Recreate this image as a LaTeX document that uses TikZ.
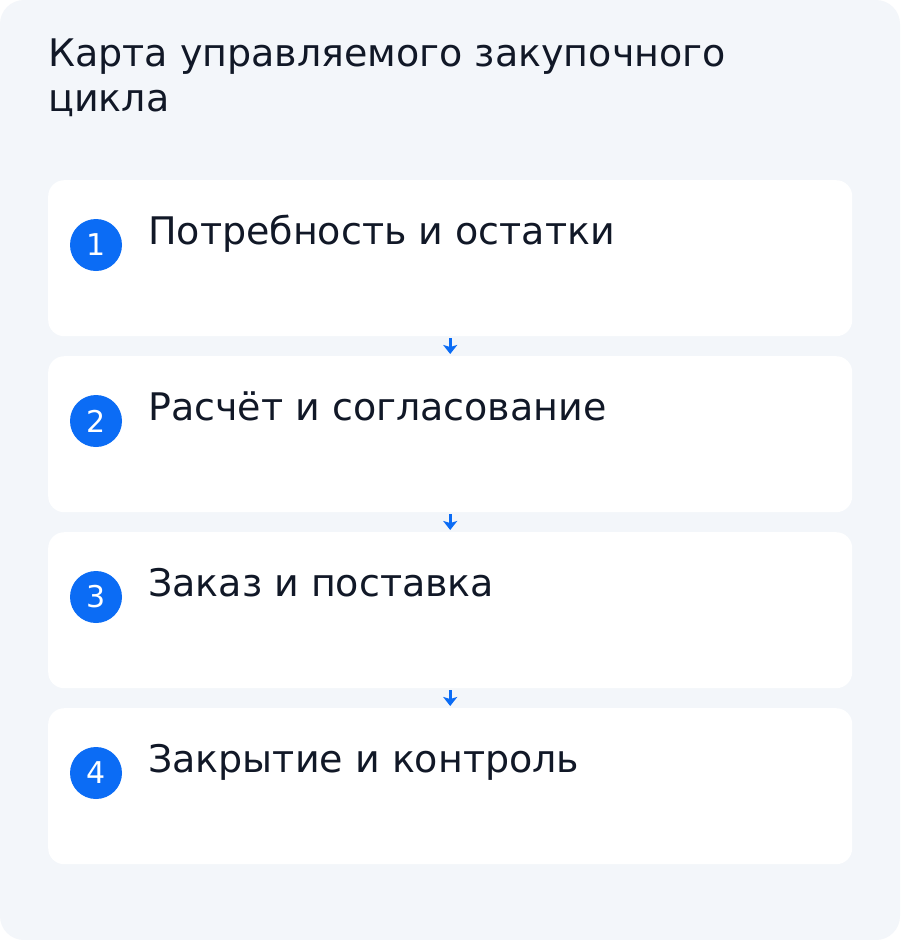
\documentclass[tikz,border=0pt]{standalone}
\usepackage{fontspec}
\setmainfont{DejaVu Sans}
\usetikzlibrary{arrows.meta}
\definecolor{pagebg}{HTML}{F3F6FA}
\definecolor{stepblue}{HTML}{0B6CF5}
\definecolor{inktext}{HTML}{111827}
\tikzset{
	card/.style={fill=white, rounded corners=16pt, minimum width=804pt, minimum height=156pt, anchor=north west, inner sep=0pt},
	badge/.style={circle, fill=stepblue, minimum size=52pt, inner sep=0pt, text=white, font=\fontsize{30}{34}\selectfont},
	cardtext/.style={anchor=base west, text=inktext, font=\fontsize{38}{44}\selectfont, inner sep=0pt},
	flow/.style={draw=stepblue, line width=3pt, -{Stealth[length=9pt,width=14pt,inset=2pt]}}
}

\begin{document}
\begin{tikzpicture}[x=1pt, y=-1pt]
		%%%%% START %%%%%
		
		\fill[white] (0, 0) rectangle (900, 940);
		\fill[pagebg, rounded corners=24pt] (0, 0) rectangle (900, 940);
		
		\node[cardtext] (title) at (48, 66) {Карта управляемого закупочного};
		\node[cardtext] (title2) at (48, 111) {цикла};
		
		\node[card] (need) at (48, 180) {};
		\node[badge] (b1) at (96, 245) {1};
		\node[cardtext] (t1) at (148, 244) {Потребность и остатки};
		
		\node[card] (calc) at (48, 356) {};
		\node[badge] (b2) at (96, 421) {2};
		\node[cardtext] (t2) at (148, 420) {Расчёт и согласование};
		
		\node[card] (order) at (48, 532) {};
		\node[badge] (b3) at (96, 597) {3};
		\node[cardtext] (t3) at (148, 596) {Заказ и поставка};
		
		\node[card] (close) at (48, 708) {};
		\node[badge] (b4) at (96, 773) {4};
		\node[cardtext] (t4) at (148, 772) {Закрытие и контроль};
		
		\draw[flow] ([yshift=-2pt]need.south) -- ([yshift=2pt]calc.north);
		\draw[flow] ([yshift=-2pt]calc.south) -- ([yshift=2pt]order.north);
		\draw[flow] ([yshift=-2pt]order.south) -- ([yshift=2pt]close.north);
		
		%%%%% END %%%%%
	\end{tikzpicture}
\end{document}
